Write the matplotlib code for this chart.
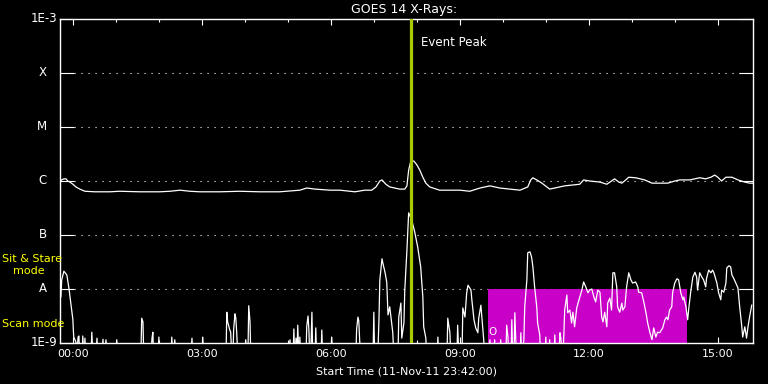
import numpy as np
import matplotlib
matplotlib.use("Agg")
import matplotlib.pyplot as plt
import matplotlib.transforms as mtransforms
from matplotlib.patches import Rectangle

# ---------------- data (hours after 00:00 UT, log10 flux W/m^2) ----------------
BASE = -9.3  # below plotting floor

long_t = [-0.30, -0.26, -0.21, -0.16, -0.12, -0.07, 0.00, 0.07, 0.16, 0.28, 0.51, 0.86, 1.09, 1.56,
          2.02, 2.26, 2.49, 2.72, 2.95, 3.42, 3.88, 4.35, 4.81, 5.28, 5.44, 5.63, 5.98, 6.21, 6.56,
          6.79, 6.95, 7.05, 7.14, 7.19, 7.28, 7.37, 7.60, 7.72, 7.77, 7.81, 7.86, 7.93, 8.00, 8.07,
          8.14, 8.21, 8.30, 8.53, 8.77, 9.00, 9.23, 9.47, 9.70, 9.93, 10.16, 10.40, 10.58, 10.65,
          10.70, 10.79, 10.91, 11.09, 11.44, 11.79, 11.88, 12.02, 12.26, 12.42, 12.53, 12.60, 12.70,
          12.77, 12.86, 12.93, 13.09, 13.30, 13.47, 13.65, 13.84, 14.00, 14.12, 14.35, 14.58, 14.72,
          14.84, 14.93, 15.00, 15.09, 15.19, 15.33, 15.47, 15.63, 15.74, 15.81]
long_logflux = [-6.00, -5.98, -5.96, -5.96, -6.00, -6.02, -6.06, -6.11, -6.15, -6.19, -6.20, -6.20,
                -6.19, -6.20, -6.20, -6.19, -6.17, -6.19, -6.20, -6.20, -6.19, -6.20, -6.20, -6.17,
                -6.13, -6.15, -6.17, -6.17, -6.20, -6.17, -6.17, -6.11, -6.00, -5.98, -6.06, -6.11,
                -6.15, -6.15, -6.09, -5.80, -5.63, -5.63, -5.70, -5.80, -5.93, -6.04, -6.11, -6.17,
                -6.17, -6.17, -6.19, -6.13, -6.09, -6.13, -6.15, -6.17, -6.11, -5.98, -5.94, -5.98,
                -6.04, -6.15, -6.09, -6.06, -5.98, -6.00, -6.02, -6.06, -6.00, -5.96, -6.02, -6.04,
                -5.98, -5.93, -5.94, -5.98, -6.04, -6.04, -6.04, -6.00, -5.98, -5.98, -5.94, -5.96,
                -5.93, -5.89, -5.93, -6.00, -5.93, -5.93, -5.98, -6.02, -6.04, -6.04]

short_t = [-0.30, -0.28, -0.26, -0.21, -0.14, -0.09, -0.05, -0.02, 0.00, 0.01, 0.02, 0.07, 0.09,
           0.12, 0.14, 0.16, 0.21, 0.23, 0.26, 0.28, 0.30, 0.42, 0.44, 0.47, 0.53, 0.56, 0.58, 0.67,
           0.70, 0.72, 0.77, 0.79, 1.00, 1.02, 1.05, 1.58, 1.60, 1.63, 1.65, 1.81, 1.84, 1.86, 1.88,
           1.98, 2.00, 2.02, 2.28, 2.30, 2.33, 2.37, 2.40, 2.74, 2.77, 2.79, 3.00, 3.02, 3.05, 3.56,
           3.58, 3.60, 3.63, 3.65, 3.67, 3.70, 3.72, 3.74, 3.77, 3.79, 3.81, 3.84, 4.00, 4.02, 4.05,
           4.07, 4.09, 4.12, 4.14, 5.02, 5.05, 5.07, 5.12, 5.14, 5.16, 5.19, 5.21, 5.23, 5.26, 5.28,
           5.30, 5.42, 5.44, 5.47, 5.49, 5.51, 5.53, 5.56, 5.58, 5.63, 5.65, 5.67, 5.77, 5.79, 5.81,
           6.00, 6.02, 6.05, 6.58, 6.60, 6.63, 6.65, 6.67, 6.70, 6.98, 7.00, 7.02, 7.09, 7.12, 7.14,
           7.19, 7.21, 7.26, 7.30, 7.33, 7.37, 7.44, 7.47, 7.56, 7.58, 7.63, 7.65, 7.70, 7.72, 7.77,
           7.81, 7.88, 7.95, 8.02, 8.09, 8.14, 8.16, 8.21, 8.23, 8.47, 8.49, 8.51, 8.70, 8.72, 8.77,
           8.79, 8.93, 8.95, 8.98, 9.05, 9.07, 9.12, 9.16, 9.19, 9.26, 9.28, 9.33, 9.37, 9.42, 9.44,
           9.49, 9.53, 9.56, 9.58, 9.67, 9.70, 9.72, 9.79, 9.81, 9.84, 9.93, 9.95, 9.98, 10.07, 10.09,
           10.12, 10.14, 10.19, 10.21, 10.23, 10.26, 10.28, 10.30, 10.33, 10.40, 10.42, 10.44, 10.49,
           10.51, 10.56, 10.58, 10.63, 10.67, 10.70, 10.74, 10.79, 10.81, 10.86, 10.88, 10.98, 11.00,
           11.02, 11.07, 11.09, 11.12, 11.19, 11.21, 11.23, 11.30, 11.33, 11.35, 11.40, 11.44, 11.49,
           11.51, 11.56, 11.60, 11.63, 11.67, 11.72, 11.79, 11.84, 11.88, 11.93, 11.98, 12.02, 12.07,
           12.12, 12.16, 12.21, 12.26, 12.30, 12.33, 12.37, 12.42, 12.44, 12.49, 12.53, 12.56, 12.60,
           12.65, 12.67, 12.72, 12.77, 12.79, 12.84, 12.88, 12.93, 12.98, 13.02, 13.09, 13.14, 13.16,
           13.23, 13.28, 13.33, 13.37, 13.42, 13.47, 13.51, 13.56, 13.60, 13.65, 13.72, 13.77, 13.81,
           13.84, 13.88, 13.93, 13.95, 14.00, 14.05, 14.09, 14.14, 14.19, 14.21, 14.26, 14.30, 14.33,
           14.37, 14.42, 14.47, 14.51, 14.53, 14.58, 14.63, 14.67, 14.72, 14.74, 14.79, 14.84, 14.88,
           14.91, 14.98, 15.02, 15.07, 15.09, 15.14, 15.19, 15.21, 15.26, 15.30, 15.33, 15.37, 15.42,
           15.47, 15.51, 15.56, 15.58, 15.63, 15.67, 15.70, 15.74, 15.79]
B = BASE
short_logflux = [-7.74, -8.15, -7.83, -7.67, -7.74, -8.00, -8.26, -8.44, -8.57, -8.76, -8.89, -8.98, B,
                 -8.89, -8.87, B, B, -8.87, B, -8.91, B, B, -8.80, B, B, -8.91, B, B,
                 -8.93, B, -8.94, B, B, -8.94, B, B, -8.54, -8.61, B, B, -8.91, -8.80, B,
                 B, -8.89, B, B, -8.89, B, -8.94, B, B, -8.91, B, B, -8.89, B, B,
                 -8.43, -8.61, -8.70, -8.76, -8.80, B, B, -8.74, -8.46, -8.54, -8.80, B, B, -8.94, B,
                 B, -8.31, -8.61, B, B, -8.94, B, B, -8.74, B, -8.91, B, -8.67, B, -8.89,
                 B, B, -8.69, -8.50, -8.76, B, B, -8.43, B, B, -8.72, B, B, -8.76, B,
                 B, -8.89, B, B, -8.74, -8.52, -8.59, -8.94, B, B, -8.43, B, B, -8.54, -7.83,
                 -7.44, -7.52, -7.69, -7.87, -8.48, -8.33, -8.80, B, B, -8.52, -8.26, -8.91, -8.63, -8.02, -7.28,
                 -6.59, -6.72, -6.94, -7.22, -7.59, -8.15, -8.70, -8.91, B, B, -8.89, B, B, -8.54, -8.81,
                 B, B, -8.67, B, B, -8.35, -8.52, -8.07, -7.93, -8.02, -8.20, -8.57, -8.72, -8.81, -8.54,
                 -8.30, -8.70, -8.98, B, B, -8.94, B, B, -8.94, B, B, -8.94, B, B, -8.67,
                 -8.89, B, B, -8.57, B, B, -8.44, -8.91, B, B, -8.81, B, -8.94,
                 -8.33, -7.83, -7.33, -7.31, -7.41, -7.59, -7.96, -8.33, -8.63, -8.85, B, B, -8.89,
                 B, B, -8.94, B, B, -8.85, B, B, -8.81, -8.91, B, -8.39, -8.11,
                 -8.44, -8.39, -8.63, -8.43, -8.70, -8.35, -8.15, -8.02, -7.87, -7.96, -8.07, -8.02, -8.00,
                 -8.15, -8.24, -8.02, -8.06, -8.52, -8.61, -8.43, -8.70, -8.26, -8.17, -8.39, -7.70, -7.70,
                 -7.96, -8.33, -8.43, -8.26, -8.39, -8.33, -7.96, -7.70, -7.83, -7.89, -7.87, -7.96, -8.06,
                 -8.07, -8.24, -8.44, -8.63, -8.80, -8.94, -8.72, -8.89, -8.80, -8.81, -8.72, -8.57, -8.52,
                 -8.57, -8.39, -8.33, -8.07, -7.89, -7.81, -7.83, -8.07, -8.20, -8.15, -8.33, -8.57, -8.33,
                 -8.06, -7.78, -7.69, -7.78, -8.02, -7.70, -7.78, -7.83, -7.96, -7.80, -7.65, -7.70, -7.65,
                 -7.70, -7.89, -8.07, -8.20, -8.02, -8.06, -7.89, -7.61, -7.57, -7.59, -7.74, -7.80, -7.89,
                 -7.98, -8.33, -8.70, -8.89, -8.70, -8.91, -8.72, -8.52, -8.30]

event_peak_t = 7.86
scan_start_t, scan_end_t = 9.65, 14.28
scan_top_flux = 1e-8
class_levels = [1e-9, 1e-8, 1e-7, 1e-6, 1e-5, 1e-4, 1e-3]
class_names = ["1E-9", "A", "B", "C", "M", "X", "1E-3"]
hour_ticks = [0, 3, 6, 9, 12, 15]
hour_labels = ["00:00", "03:00", "06:00", "09:00", "12:00", "15:00"]
x_start, x_end = -0.30, 15.82

# ---------------- figure ----------------
W, H = 768, 384
fig = plt.figure(figsize=(W / 100, H / 100), dpi=100, facecolor="black")
ax = fig.add_axes([60 / W, 1 - 343 / H, 693 / W, 324 / H], facecolor="black")
ax.set_yscale("log")
ax.set_xlim(x_start, x_end)
ax.set_ylim(1e-9, 1e-3)

for s in ax.spines.values():
    s.set_color("white")
    s.set_linewidth(1.0)

# dotted class lines
for lev in class_levels[1:-1]:
    ax.plot([x_start + 14 / 43, x_end], [lev, lev], color="white", lw=0.8,
            linestyle=(0, (1, 5.3)), zorder=1)

# scan-mode rectangle
ax.add_patch(Rectangle((scan_start_t, 1e-9), scan_end_t - scan_start_t, scan_top_flux - 1e-9,
                       facecolor="#c800c8", edgecolor="none", zorder=2))

ax.plot(long_t, 10 ** np.array(long_logflux), color="white", lw=0.9, zorder=4)
ax.plot(short_t, 10 ** np.array(short_logflux), color="white", lw=0.9, zorder=4)

ax.axvline(event_peak_t, color="#a8cc00", lw=2.3, zorder=5)
ax.text(event_peak_t + 10 / 43, 10 ** (-3 - 24 / 54), "Event Peak", color="white",
        fontsize=8.5, ha="left", va="center", zorder=6)
ax.text(9.77, 10 ** (-8.80), "O", color="white", fontsize=7.5, ha="center", va="center", zorder=6)

# x ticks
ax.set_xticks(hour_ticks)
ax.set_xticklabels(hour_labels)
ax.set_xticks(np.arange(0, 16, 1), minor=True)
ax.tick_params(axis="x", which="major", direction="in", length=4.3, width=0.8, colors="white",
               top=True, bottom=True, labelsize=8, pad=4)
ax.tick_params(axis="x", which="minor", direction="in", length=2.2, width=0.8, colors="white",
               top=True, bottom=True)

# y ticks (labels drawn manually)
ax.set_yticks(class_levels)
ax.set_yticklabels([])
ax.yaxis.set_minor_locator(matplotlib.ticker.NullLocator())
ax.tick_params(axis="y", which="major", direction="in", length=10, width=0.8, colors="white",
               left=True, right=True)

tr = mtransforms.blended_transform_factory(fig.transFigure, ax.transData)
for lev, name in zip(class_levels, class_names):
    xr = 57 / W if name.startswith("1E") else 47 / W
    fig.text(xr, lev, name, transform=tr, color="white", fontsize=8.5, ha="right", va="center")

fig.text(404 / W, 1 - 10 / H, "GOES 14 X-Rays:", color="white", fontsize=9, ha="center", va="center")
fig.text(406 / W, 1 - 372 / H, "Start Time (11-Nov-11 23:42:00)", color="white", fontsize=8,
         ha="center", va="center")

fig.text(2 / W, 1 - 259 / H, "Sit & Stare", color="#ffff00", fontsize=8, ha="left", va="center")
fig.text(13 / W, 1 - 271 / H, "mode", color="#ffff00", fontsize=8, ha="left", va="center")
fig.text(2 / W, 1 - 324 / H, "Scan mode", color="#ffff00", fontsize=8, ha="left", va="center")

fig.savefig("out.png", dpi=100, facecolor="black")
